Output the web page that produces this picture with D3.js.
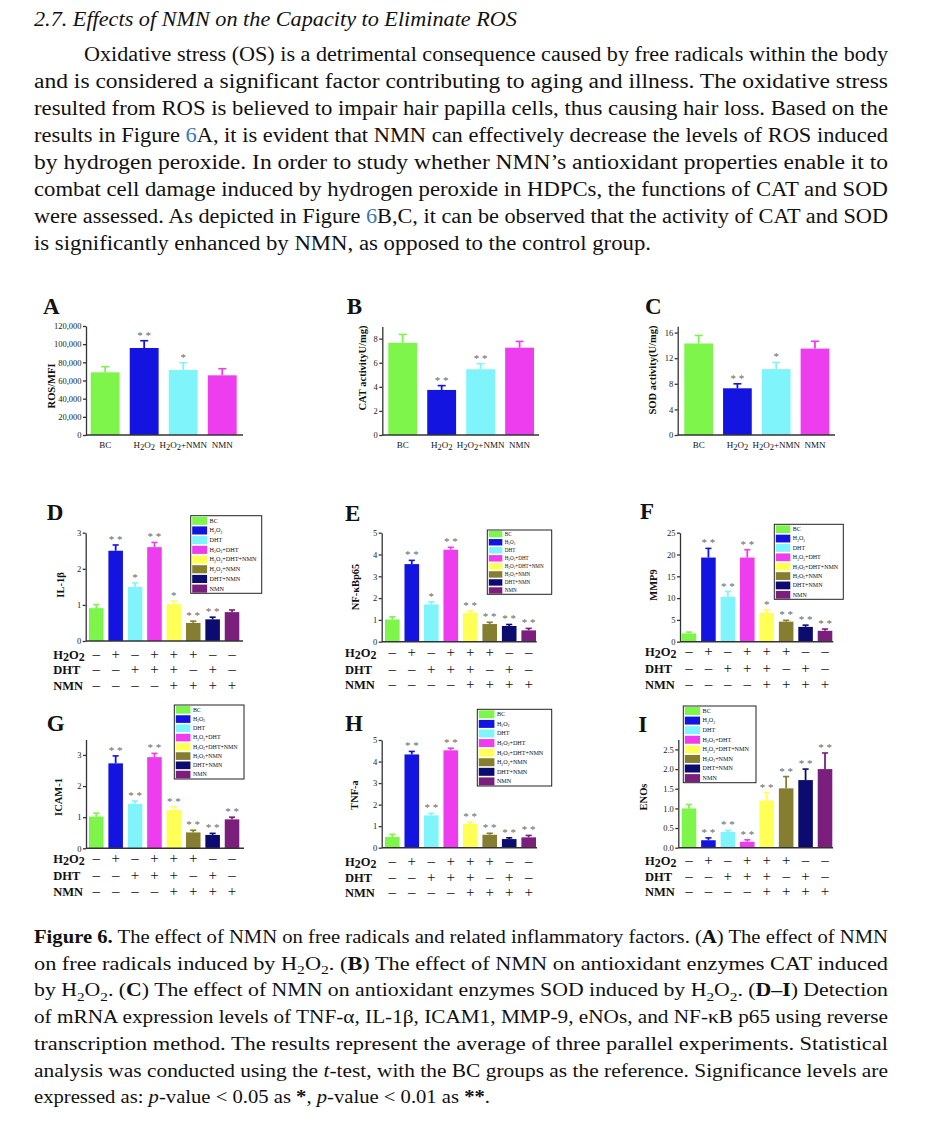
<!DOCTYPE html>
<html>
<head>
<meta charset="utf-8">
<script src="https://cdn.jsdelivr.net/npm/d3@7"></script>
<style>
  body { margin: 0; background: #fff; }
  svg { display: block; font-family: "Liberation Serif", "Times New Roman", serif; }
</style>
</head>
<body>
<div id="fig"></div>
<script>
// ---- data ----
const topGroups = ["BC", "H2O2", "H2O2+NMN", "NMN"];
const rosValues = [69000, 95800, 71600, 65700];
const rosErrors = [6200, 8000, 8000, 7300];
const rosSig = ["", "**", "*", ""];
const rosTicks = [0, 20000, 40000, 60000, 80000, 100000, 120000];

const catValues = [7.65, 3.74, 5.46, 7.25];
const catErrors = [0.7, 0.36, 0.46, 0.52];
const catSig = ["", "**", "**", ""];
const catTicks = [0, 2, 4, 6, 8];

const sodValues = [14.3, 7.3, 10.3, 13.5];
const sodErrors = [1.25, 0.7, 1.05, 1.15];
const sodSig = ["", "**", "*", ""];
const sodTicks = [0, 4, 8, 12, 16];

const groups = ["BC", "H2O2", "DHT", "H2O2+DHT", "H2O2+DHT+NMN", "H2O2+NMN", "DHT+NMN", "NMN"];

const il1bValues = [0.91, 2.50, 1.50, 2.60, 1.02, 0.50, 0.60, 0.80];
const il1bErrors = [0.10, 0.16, 0.11, 0.13, 0.09, 0.05, 0.06, 0.06];
const il1bSig = ["", "**", "*", "**", "*", "**", "**", ""];
const il1bTicks = [0, 1, 2, 3];

const nfkbValues = [1.02, 3.56, 1.71, 4.22, 1.32, 0.81, 0.72, 0.52];
const nfkbErrors = [0.12, 0.17, 0.12, 0.11, 0.10, 0.08, 0.07, 0.09];
const nfkbSig = ["", "**", "*", "**", "**", "**", "**", "**"];
const nfkbTicks = [0, 1, 2, 3, 4, 5];

const mmp9Values = [1.9, 19.3, 10.3, 19.3, 6.6, 4.6, 3.4, 2.5];
const mmp9Errors = [0.3, 2.1, 1.2, 1.8, 0.7, 0.3, 0.4, 0.4];
const mmp9Sig = ["", "**", "**", "**", "*", "**", "**", "**"];
const mmp9Ticks = [0, 5, 10, 15, 20, 25];

const icamValues = [1.02, 2.73, 1.43, 2.93, 1.23, 0.51, 0.43, 0.93];
const icamErrors = [0.11, 0.24, 0.09, 0.12, 0.11, 0.07, 0.05, 0.07];
const icamSig = ["", "**", "**", "**", "**", "**", "**", "**"];
const icamTicks = [0, 1, 2, 3];

const tnfValues = [0.50, 4.33, 1.50, 4.52, 1.10, 0.60, 0.40, 0.48];
const tnfErrors = [0.12, 0.14, 0.09, 0.10, 0.09, 0.07, 0.06, 0.09];
const tnfSig = ["", "**", "**", "**", "**", "**", "**", "**"];
const tnfTicks = [0, 1, 2, 3, 4, 5];

const enosValues = [1.00, 0.19, 0.40, 0.15, 1.20, 1.51, 1.72, 2.00];
const enosErrors = [0.10, 0.06, 0.04, 0.05, 0.20, 0.30, 0.28, 0.41];
const enosSig = ["", "**", "**", "**", "**", "**", "**", "**"];
const enosTicks = [0, 0.5, 1.0, 1.5, 2.0, 2.5];

// treatment table under the 8-bar panels
const rowNames = ["H2O2", "DHT", "NMN"];
const h2o2Row = ["–", "+", "–", "+", "+", "+", "–", "–"];
const dhtRow = ["–", "–", "+", "+", "+", "–", "+", "–"];
const nmnRow = ["–", "–", "–", "–", "+", "+", "+", "+"];

// ---- styles ----
const topColors = ["#7df54a", "#1414e0", "#7ff5fb", "#ee3cef"];
const colors8 = ["#7df54a", "#1414e0", "#7ff5fb", "#ee3cef", "#ffff55", "#857d30", "#0c0c70", "#7b1f7d"];
const ink = "#111";

const W = 938, H = 1148;
const svg = d3.select("#fig").append("svg").attr("width", W).attr("height", H);

// text with H2O2 style subscripts
function chem(sel, str, subSize, drop) {
  let down = false;
  str.split(/(2)/).filter(p => p !== "").forEach(p => {
    const t = sel.append("tspan").text(p);
    if (p === "2") {
      t.attr("font-size", subSize);
      if (!down) { t.attr("dy", drop); down = true; }
    } else if (down) { t.attr("dy", -drop); down = false; }
  });
}

function richLine(x, y, segs, size, len) {
  const t = svg.append("text").attr("x", x).attr("y", y)
    .attr("font-size", size).attr("fill", ink);
  if (len) t.attr("textLength", len).attr("lengthAdjust", "spacingAndGlyphs");
  let drop = 0;
  segs.forEach(([s, st]) => {
    const sp = t.append("tspan").text(s);
    if (st === "b") sp.attr("font-weight", "bold");
    if (st === "i") sp.attr("font-style", "italic");
    if (st === "blue") sp.attr("fill", "#3b78b8");
    if (st === "sub") {
      sp.attr("font-size", size * 0.7);
      if (!drop) { drop = size * 0.22; sp.attr("dy", drop); }
    } else if (drop) { sp.attr("dy", -drop); drop = 0; }
  });
}

// ---- page text ----
richLine(34, 26, [["2.7. ", "i"], ["Effects of NMN on the Capacity to Eliminate ROS", "i"]], 20, 483);

const body = [
  [[ "Oxidative stress (OS) is a detrimental consequence caused by free radicals within the body" ]],
  [[ "and is considered a significant factor contributing to aging and illness.  The oxidative stress" ]],
  [[ "resulted from ROS is believed to impair hair papilla cells, thus causing hair loss. Based on the" ]],
  [[ "results in Figure " ], ["6", "blue"], ["A, it is evident that NMN can effectively decrease the levels of ROS induced"]],
  [[ "by hydrogen peroxide. In order to study whether NMN\u2019s antioxidant properties enable it to" ]],
  [[ "combat cell damage induced by hydrogen peroxide in HDPCs, the functions of CAT and SOD" ]],
  [[ "were assessed.  As depicted in Figure " ], ["6", "blue"], ["B,C, it can be observed that the activity of CAT and SOD"]],
  [[ "is significantly enhanced by NMN, as opposed to the control group." ]]
];
const bodyEnds = [888, 888, 888, 888, 888, 888, 888, 651];
body.forEach((segs, i) => {
  const x = i === 0 ? 84 : 34;
  richLine(x, 61 + 27 * i, segs, 20, bodyEnds[i] - x);
});

const caption = [
  [["Figure 6.", "b"], [" The effect of NMN on free radicals and related inflammatory factors. ("], ["A", "b"], [") The effect of NMN"]],
  [["on free radicals induced by H"], ["2", "sub"], ["O"], ["2", "sub"], [".  ("], ["B", "b"], [") The effect of NMN on antioxidant enzymes CAT induced"]],
  [["by H"], ["2", "sub"], ["O"], ["2", "sub"], [". ("], ["C", "b"], [") The effect of NMN on antioxidant enzymes SOD induced by H"], ["2", "sub"], ["O"], ["2", "sub"], [". ("], ["D\u2013I", "b"], [") Detection"]],
  [["of mRNA expression levels of TNF-\u03b1, IL-1\u03b2, ICAM1, MMP-9, eNOs, and NF-\u03baB p65 using reverse"]],
  [["transcription method.  The results represent the average of three parallel experiments.  Statistical"]],
  [["analysis was conducted using the "], ["t", "i"], ["-test, with the BC groups as the reference. Significance levels are"]],
  [["expressed as: "], ["p", "i"], ["-value < 0.05 as "], ["*", "b"], [", "], ["p", "i"], ["-value < 0.01 as "], ["**", "b"], ["."]]
];
const capEnds = [888, 888, 888, 888, 888, 888, 490];
caption.forEach((segs, i) => richLine(34, 943 + 26.7 * i, segs, 19, capEnds[i] - 34));

// ---- panels ----
const panels = [
  { letter: "A", lx: 43, ly: 314, groups: topGroups, values: rosValues, errors: rosErrors, sig: rosSig,
    ticks: rosTicks, fmt: d3.format(","), domain: [0, 120000], x0: 86, x1: 243, yTop: 326, yZero: 435,
    band: [90.7, 236.7], pad: 0.26, colors: topColors, ylabel: "ROS/MFI", ylx: 51, yly: 386 },
  { letter: "B", lx: 346.7, ly: 314, groups: topGroups, values: catValues, errors: catErrors, sig: catSig,
    ticks: catTicks, fmt: d3.format("d"), domain: [0, 9], x0: 382.3, x1: 539, yTop: 326.6, yZero: 435,
    band: [388.3, 534], pad: 0.26, colors: topColors, ylabel: "CAT activityU/mg)", ylx: 362.5, yly: 368 },
  { letter: "C", lx: 645, ly: 314, groups: topGroups, values: sodValues, errors: sodErrors, sig: sodSig,
    ticks: sodTicks, fmt: d3.format("d"), domain: [0, 17], x0: 677.7, x1: 835, yTop: 326.2, yZero: 435,
    band: [684.3, 829.3], pad: 0.26, colors: topColors, ylabel: "SOD activity(U/mg)", ylx: 652, yly: 370 },

  { letter: "D", lx: 46.7, ly: 520, groups: groups, values: il1bValues, errors: il1bErrors, sig: il1bSig,
    ticks: il1bTicks, fmt: d3.format("d"), domain: [0, 3], x0: 85.7, x1: 243, yTop: 532.7, yZero: 641,
    band: [89, 239.3], pad: 0.25, colors: colors8, ylabel: "IL-1\u03b2", ylx: 60, yly: 585,
    legend: [190.7, 515.7, 71, 77.6], rows: [53.3, [659, 674, 690]] },
  { letter: "E", lx: 345, ly: 521, groups: groups, values: nfkbValues, errors: nfkbErrors, sig: nfkbSig,
    ticks: nfkbTicks, fmt: d3.format("d"), domain: [0, 5], x0: 381.7, x1: 536.7, yTop: 532.7, yZero: 641.7,
    band: [385, 536], pad: 0.25, colors: colors8, ylabel: "NF-\u03baBp65", ylx: 355, yly: 587,
    legend: [487.3, 530, 64.4, 64.3], rows: [345, [656.5, 673.5, 689]] },
  { letter: "F", lx: 640, ly: 519, groups: groups, values: mmp9Values, errors: mmp9Errors, sig: mmp9Sig,
    ticks: mmp9Ticks, fmt: d3.format("d"), domain: [0, 25], x0: 680, x1: 833.3, yTop: 532.7, yZero: 641.7,
    band: [681.7, 832.3], pad: 0.25, colors: colors8, ylabel: "MMP9", ylx: 653.3, yly: 585,
    legend: [774.3, 524.3, 69, 75], rows: [645, [656, 672.5, 689]] },

  { letter: "G", lx: 46.7, ly: 731, groups: groups, values: icamValues, errors: icamErrors, sig: icamSig,
    ticks: icamTicks, fmt: d3.format("d"), domain: [0, 3.5], x0: 86, x1: 244, yTop: 739.4, yZero: 848.3,
    band: [89, 239.3], pad: 0.25, colors: colors8, ylabel: "ICAM-1", ylx: 58.3, yly: 797,
    legend: [174.3, 705, 69.7, 74], rows: [53.3, [863, 879.5, 895.5]] },
  { letter: "H", lx: 345, ly: 731, groups: groups, values: tnfValues, errors: tnfErrors, sig: tnfSig,
    ticks: tnfTicks, fmt: d3.format("d"), domain: [0, 5], x0: 381.7, x1: 537, yTop: 740, yZero: 847.7,
    band: [385, 536], pad: 0.25, colors: colors8, ylabel: "TNF-a", ylx: 354.3, yly: 795,
    legend: [477.3, 709.3, 74.4, 76.7], rows: [345, [866, 882, 897]] },
  { letter: "I", lx: 638.3, ly: 732, groups: groups, values: enosValues, errors: enosErrors, sig: enosSig,
    ticks: enosTicks, fmt: d3.format(".1f"), domain: [0, 2.75], x0: 678.3, x1: 833, yTop: 739.6, yZero: 847.7,
    band: [681.7, 832.3], pad: 0.25, colors: colors8, ylabel: "ENOs", ylx: 643.3, yly: 797,
    legend: [683.3, 706, 72.7, 76.7], rows: [645, [865, 880.5, 896]] }
];

const tableRows = [h2o2Row, dhtRow, nmnRow];

panels.forEach(p => {
  const g = svg.append("g");
  const y = d3.scaleLinear().domain(p.domain).range([p.yZero, p.yTop]);
  const x = d3.scaleBand().domain(p.groups).range(p.band).paddingInner(p.pad).paddingOuter(0);
  const bw = x.bandwidth();
  const data = p.groups.map((k, i) => ({ k, v: p.values[i], e: p.errors[i], s: p.sig[i], c: p.colors[i] }));

  // letter
  g.append("text").attr("x", p.lx).attr("y", p.ly).attr("font-size", 23)
    .attr("font-weight", "bold").attr("fill", ink).text(p.letter);

  // bars
  g.selectAll("rect.bar").data(data).join("rect").attr("class", "bar")
    .attr("x", d => x(d.k)).attr("y", d => y(d.v))
    .attr("width", bw).attr("height", d => y(0) - y(d.v))
    .attr("fill", d => d.c);

  // error bars (upper half)
  const capW = Math.min(8, bw * 0.42);
  g.selectAll("line.err").data(data).join("line").attr("class", "err")
    .attr("x1", d => x(d.k) + bw / 2).attr("x2", d => x(d.k) + bw / 2)
    .attr("y1", d => y(d.v)).attr("y2", d => y(d.v + d.e))
    .attr("stroke", d => d.c).attr("stroke-width", 1.8);
  g.selectAll("line.cap").data(data).join("line").attr("class", "cap")
    .attr("x1", d => x(d.k) + bw / 2 - capW / 2).attr("x2", d => x(d.k) + bw / 2 + capW / 2)
    .attr("y1", d => y(d.v + d.e)).attr("y2", d => y(d.v + d.e))
    .attr("stroke", d => d.c).attr("stroke-width", 1.6);

  // significance stars
  g.selectAll("text.sig").data(data.filter(d => d.s)).join("text").attr("class", "sig")
    .attr("x", d => x(d.k) + bw / 2).attr("y", d => y(d.v + d.e) - 2)
    .attr("text-anchor", "middle").attr("font-size", 11).attr("fill", "#666")
    .text(d => d.s.split("").join(" "));

  // y axis
  const ay = g.append("g").attr("transform", `translate(${p.x0},0)`)
    .call(d3.axisLeft(y).tickValues(p.ticks).tickFormat(p.fmt).tickSize(3).tickSizeOuter(0).tickPadding(1.5));
  ay.selectAll("path, line").attr("stroke", "#333").attr("stroke-width", 1.3);
  ay.selectAll("text").attr("font-size", 8.5).attr("fill", "#222")
    .attr("font-family", "Liberation Serif, serif");

  // x axis line
  g.append("line").attr("x1", p.x0).attr("x2", p.x1).attr("y1", y(0)).attr("y2", y(0))
    .attr("stroke", "#333").attr("stroke-width", 1.5);

  // y label
  g.append("text").attr("transform", `translate(${p.ylx},${p.yly}) rotate(-90)`)
    .attr("text-anchor", "middle").attr("dy", "0.35em")
    .attr("font-size", 10.5).attr("font-weight", "bold").attr("fill", ink).text(p.ylabel);

  if (!p.legend) {
    // category labels under the four-bar panels
    g.selectAll("text.cat").data(data).join("text").attr("class", "cat")
      .attr("x", d => x(d.k) + bw / 2).attr("y", p.yZero + 13)
      .attr("text-anchor", "middle").attr("font-size", 9).attr("fill", ink)
      .each(function (d) { chem(d3.select(this), d.k, 8.5, 1.5); });
    return;
  }

  // legend
  const [bx, by, bwid, bh] = p.legend;
  const rowH = bh / p.groups.length;
  const sw = bwid * 0.21;
  const lg = g.append("g");
  lg.append("rect").attr("x", bx).attr("y", by).attr("width", bwid).attr("height", bh)
    .attr("fill", "#fff").attr("stroke", "#222").attr("stroke-width", 1);
  lg.selectAll("rect.sw").data(data).join("rect").attr("class", "sw")
    .attr("x", bx + 1.5).attr("y", (d, i) => by + i * rowH + 1)
    .attr("width", sw).attr("height", rowH - 1.6).attr("fill", d => d.c);
  const fs = rowH * 0.64;
  lg.selectAll("text.lt").data(data).join("text").attr("class", "lt")
    .attr("x", bx + sw + 4).attr("y", (d, i) => by + i * rowH + rowH * 0.72)
    .attr("font-size", fs).attr("fill", ink)
    .each(function (d) { chem(d3.select(this), d.k, fs * 0.6, fs * 0.25); });

  // treatment table
  const [rx, rys] = p.rows;
  rowNames.forEach((name, r) => {
    const t = g.append("text").attr("x", rx).attr("y", rys[r]).attr("font-size", 12.5)
      .attr("font-weight", "bold").attr("fill", ink);
    chem(t, name, 12, 2);
    g.selectAll(null).data(tableRows[r]).join("text")
      .attr("x", (d, i) => x(p.groups[i]) + bw / 2).attr("y", rys[r])
      .attr("text-anchor", "middle").attr("font-size", 15).attr("fill", ink)
      .text(d => d);
  });
});
</script>
</body>
</html>
